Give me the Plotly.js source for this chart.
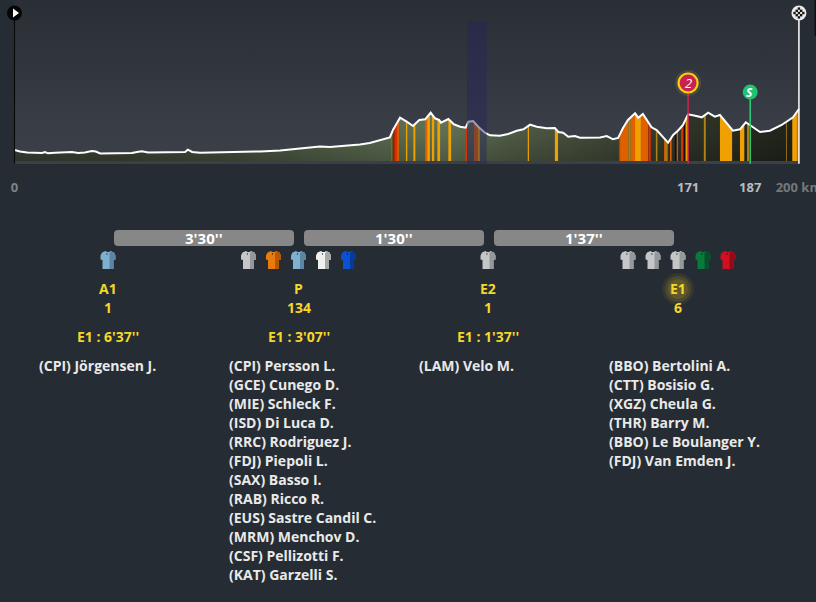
<!DOCTYPE html>
<html><head><meta charset="utf-8">
<script src="https://cdn.plot.ly/plotly-3.0.1.min.js"></script>
<style>html,body{margin:0;padding:0;background:#262c33;overflow:hidden}#c{width:816px;height:602px}</style>
</head><body><div id="c"></div>
<script>
const profileKm=[0,1.4,3.2,5.2,7,7.8,8.5,10.3,12.8,14.6,16.2,17.9,19.7,20.7,21.8,24.3,26.8,29.9,31.2,32.4,34,37,40.8,43.4,44.1,45.2,47.2,53.6,62.5,67.6,70.1,76.2,77.7,80.3,84.3,87.9,90.4,93,95.5,96.3,97.1,98.1,99.8,101.4,103,104.5,105.9,107,108.1,108.5,110.4,111.8,113.4,114.8,115.5,116.7,118,119.7,121,123.5,125.6,127.8,129.5,131.2,132.9,135.4,137.5,138.4,139.6,140.9,142.6,143.9,149,150.7,152.3,153.6,154.8,156.1,157.9,158.7,159.9,162.1,163.4,165,166.3,167.6,168.8,170.1,171.4,173.2,174.9,176.5,178.2,179.5,181.2,182.8,184.6,186.1,187.1,189.7,192.2,195.2,198.1,199.6];
const profileElev=[220,190,170,166,160,180,154,164,170,180,160,170,200,190,150,150,160,160,180,194,170,170,180,180,226,180,166,170,190,210,230,270,290,280,300,330,360,410,470,620,740,866,786,700,820,834,966,854,820,766,840,734,686,666,786,800,686,566,514,506,540,606,634,726,686,654,660,580,566,486,500,466,470,500,434,460,654,820,954,866,940,674,620,486,366,520,606,720,934,906,874,966,886,920,766,606,634,774,720,580,606,720,874,1040];
const O='#f0a000',D='#e06000',R='#d83000',K='#111111',C='#b08018',M='#a82000';
const stripeStart=[96,96.2,96.4,96.8,97.4,99.6,101.5,104.5,105,106.2,107.6,110.4,114.7,116.9,117.8,130.6,137.5,153.8,154.1,156.2,156.8,157.9,158.7,159.4,160.2,161.3,163.2,165.3,165.8,166.8,168,168.5,169.6,170.2,170.7,175.4,179.5,184.6,186.4,196.3,197.9,199.1];
const stripeEnd=[96.2,96.4,96.8,97.4,97.8,99.95,102,105,105.7,106.8,108.3,111.1,115.2,117.8,118.4,130.9,138.3,154.1,156.2,156.8,157.9,158.7,159.4,160.2,161.2,161.9,163.6,165.8,166.2,167.2,168.5,168.8,170.2,170.7,171.4,175.9,182.6,185.7,186.9,196.5,199.1,199.6];
const stripeColor=[O,K,M,R,D,O,O,D,O,O,O,O,R,D,O,O,O,R,D,C,D,O,O,D,D,R,C,D,C,D,K,D,R,K,O,C,O,O,C,C,O,D];
const stripKm=[0,10,20,30,40,50,60,70,80,90,100,110,120,130,140,150,160,170,180,190];
const startKm=0,endKm=199.6,climbKm=171.4,sprintKm=187.2;
const tickKm=[0,171.4,187.2,199.6];
const tickText=['<span style="color:#7f8387">0</span>','<span style="color:#b9bbbd">171</span>','<span style="color:#b9bbbd">187</span>','<span style="color:#74787c">200 km</span>'];
const gapLabels=["3'30''","1'30''","1'37''"];
const groupLabels=['A1','P','E2','E1'];
const groupCounts=['1','134','1','6'];
const groupTimes=["E1 : 6'37''","E1 : 3'07''","E1 : 1'37''",''];
const groupRiders=[
 ['(CPI) Jörgensen J.'],
 ['(CPI) Persson L.','(GCE) Cunego D.','(MIE) Schleck F.','(ISD) Di Luca D.','(RRC) Rodriguez J.','(FDJ) Piepoli L.','(SAX) Basso I.','(RAB) Ricco R.','(EUS) Sastre Candil C.','(MRM) Menchov D.','(CSF) Pellizotti F.','(KAT) Garzelli S.'],
 ['(LAM) Velo M.'],
 ['(BBO) Bertolini A.','(CTT) Bosisio G.','(XGZ) Cheula G.','(THR) Barry M.','(BBO) Le Boulanger Y.','(FDJ) Van Emden J.']];
const B=['#7fb0cf','#5a86a3'],G=['#c4c6c8','#95989a'],A=['#e87a10','#b55800'],W=['#f0f0f0','#a8a8a8'],U=['#0b52d2','#07389a'],N=['#0a7a3c','#05522a'],E=['#d01020','#960a16'];
const groupJerseys=[[B],[G,A,B,W,U],[G],[G,G,G,N,E]];

const W_=816,H_=602,F='"Open Sans",sans-serif';
const px=x=>x/W_, py=y=>1-y/H_;
const elevAt=k=>{for(let i=1;i<profileKm.length;i++){if(k<=profileKm[i]){const t=(k-profileKm[i-1])/(profileKm[i]-profileKm[i-1]);return profileElev[i-1]+t*(profileElev[i]-profileElev[i-1]);}}return profileElev[profileElev.length-1];};
const pyElev=y=>(161-y)*20;
const kmX=x=>(x-14.5)/3.93;

const traces=[];
const skip={hoverinfo:'skip',showlegend:false};
traces.push({x:[0,endKm,endKm,0,0],y:[pyElev(164),pyElev(164),pyElev(0),pyElev(0),pyElev(164)],mode:'none',fill:'toself',...skip,
 fillgradient:{type:'vertical',colorscale:[[0,'#3b4048'],[0.25,'#393e46'],[0.6,'#31363e'],[1,'#2a2f36']]}});
const polyX=[0,...profileKm,endKm,0],polyY=[0,...profileElev,0,0];
traces.push({x:polyX,y:polyY,mode:'none',fill:'toself',...skip,
 fillgradient:{type:'horizontal',colorscale:[[0,'#3f4639'],[0.14,'#414839'],[0.3,'#4b5643'],[0.42,'#5a6a50'],[0.55,'#67795c'],[0.63,'#56634b'],[0.75,'#454d3b'],[0.85,'#33382b'],[1,'#21251b']]}});
traces.push({x:polyX,y:polyY,mode:'none',fill:'toself',...skip,
 fillgradient:{type:'vertical',colorscale:[[0,'rgba(0,0,0,0.26)'],[0.5,'rgba(0,0,0,0.1)'],[1,'rgba(0,0,0,0)']]}});
[...new Set(stripeColor)].forEach(col=>{
 const xs=[],ys=[];
 stripeStart.forEach((s,i)=>{ if(stripeColor[i]!==col) return;
  const e=stripeEnd[i]; const inner=profileKm.filter(k=>k>s&&k<e);
  const pts=[s,...inner,e];
  xs.push(s,...pts,e,s,null); ys.push(0,...pts.map(elevAt),0,0,null);
 });
 traces.push({x:xs,y:ys,mode:'none',fill:'toself',fillcolor:col,...skip});
});
traces.push({type:'bar',x:stripKm.map((k,i)=>k+(i===19?4.8:5)),y:stripKm.map(()=>-54),width:stripKm.map((k,i)=>i===19?9.6:10),
 marker:{color:stripKm.map((k,i)=>i%2?'#c9c9c5':'#0b0b0b'),line:{width:0}},...skip});
traces.push({x:profileKm,y:profileElev,mode:'lines',line:{color:'#ffffff',width:2},...skip});
const markerLine=(k,top,col,w)=>traces.push({x:[k,k],y:[-54,pyElev(top)],mode:'lines',line:{color:col,width:w},...skip});
markerLine(startKm,13,'#0a0a0a',1.2);
markerLine(endKm,13,'#ffffff',1.5);
markerLine(climbKm,83,'#d3224c',1.5);
markerLine(sprintKm,92,'#2bd07a',1.5);
const dot=(k,y,size,color,extra={})=>traces.push({x:[k],y:[pyElev(y)],mode:'markers',marker:{size,color,line:{width:0},...extra},...skip});
dot(startKm,13,15,'#060606');
traces.push({x:[kmX(15)],y:[pyElev(13)],mode:'markers',marker:{symbol:'triangle-right',size:8,color:'#ffffff',line:{width:0}},...skip});
dot(endKm,13,15,'#ececec');
const cx=[],cy=[];
for(let r=-2;r<=2;r++)for(let c=-2;c<=2;c++){if((r+c+4)%2===0&&Math.abs(r)+Math.abs(c)<4){cx.push(endKm+c*2.2/3.93);cy.push(pyElev(13+r*2.2));}}
traces.push({x:cx,y:cy,mode:'markers',marker:{symbol:'square',size:2.4,color:'#151515',line:{width:0}},...skip});
dot(climbKm,83,26,'rgba(245,205,30,0.12)');
dot(climbKm,83,19,'#c8234c',{line:{width:2.2,color:'#f7cf14'}});
dot(sprintKm,92,15,'#1fc273');

const shapes=[];
shapes.push({type:'rect',xref:'x',yref:'y',x0:kmX(467),x1:kmX(486.7),y0:-54,y1:pyElev(21),fillcolor:'rgba(38,36,92,0.45)',line:{width:0},layer:'above'});
shapes.push({type:'rect',xref:'paper',yref:'paper',x0:px(814.6),x1:px(816),y0:py(36),y1:py(0),fillcolor:'#101010',line:{width:0}});

const annotations=[];
const txt=(text,x,y,size,color,anchor='center',weight=700,extra={})=>annotations.push({text,xref:'paper',yref:'paper',x:px(x),y:py(y),xanchor:anchor,yanchor:'middle',showarrow:false,
 font:{family:F,size,color,weight},borderpad:0,...extra});
txt('2',688,83,13,'#ffffff','center',400,{font:{family:F,size:13,color:'#ffffff',style:'italic',weight:400}});
txt('S',749.6,92,12,'#ffffff','center',700,{font:{family:F,size:12,color:'#ffffff',style:'italic',weight:700}});

const barX=[114,304,494];
const rr=(x0,y0,x1,y1,r)=>`M${px(x0+r)},${py(y0)} L${px(x1-r)},${py(y0)} Q${px(x1)},${py(y0)} ${px(x1)},${py(y0+r)} L${px(x1)},${py(y1-r)} Q${px(x1)},${py(y1)} ${px(x1-r)},${py(y1)} L${px(x0+r)},${py(y1)} Q${px(x0)},${py(y1)} ${px(x0)},${py(y1-r)} L${px(x0)},${py(y0+r)} Q${px(x0)},${py(y0)} ${px(x0+r)},${py(y0)} Z`;
gapLabels.forEach((t,i)=>{
 shapes.push({type:'path',xref:'paper',yref:'paper',path:rr(barX[i],230,barX[i]+180,246,4),fillcolor:'#878787',line:{width:0}});
 txt(t,barX[i]+90,238,15,'#ffffff');
});
const groupX=[108,298.5,488,678],listX=[38,228,418,608];
const poly=(pts)=>'M'+pts.map(p=>px(p[0])+','+py(p[1])).join(' L')+' Z';
const jersey=(cx,cols)=>{
 const t=251;
 const P=(a)=>a.map(p=>[cx+p[0],t+p[1]]);
 shapes.push({type:'path',xref:'paper',yref:'paper',line:{width:0},fillcolor:cols[0],path:poly(P([[-2.5,0],[-6,1.5],[-7.5,4.5],[-7.5,8.5],[-5.5,9],[-5.5,18],[5.5,18],[5.5,9],[7.5,8.5],[7.5,4.5],[6,1.5],[2.5,0],[1,1],[-1,1]]))});
 shapes.push({type:'path',xref:'paper',yref:'paper',line:{width:0},fillcolor:cols[1],path:poly(P([[1.5,2],[3,0.4],[6,1.5],[7.5,4.5],[7.5,8.5],[5.5,9],[5.5,18],[1.5,18]]))});
 shapes.push({type:'path',xref:'paper',yref:'paper',line:{width:0},fillcolor:'rgba(0,0,0,0.55)',path:poly(P([[-1.6,2],[-0.6,2],[-0.6,4],[-1.6,4]]))});
};
groupJerseys.forEach((js,g)=>{
 js.forEach((c,i)=>jersey(groupX[g]+(i-(js.length-1)/2)*25,c));
});
[[16,0.08],[13,0.12],[10,0.14]].forEach(g=>shapes.push({type:'circle',xref:'paper',yref:'paper',x0:px(678-g[0]),x1:px(678+g[0]),y0:py(289+g[0]),y1:py(289-g[0]),fillcolor:`rgba(235,195,30,${g[1]})`,line:{width:0},layer:'below'}));
groupLabels.forEach((t,g)=>{
 txt(t,groupX[g],288.4,14,'#f5d72c');
 txt(groupCounts[g],groupX[g],307.4,14,'#f5d72c');
 if(groupTimes[g]) txt(groupTimes[g],groupX[g],336.4,14,'#f5d72c');
 groupRiders[g].forEach((r,i)=>txt(r,listX[g],365.4+19*i,14,'#e9e9e9','left',700));
});

Plotly.newPlot('c',traces,{
 width:W_,height:H_,margin:{l:0,r:0,t:0,b:0,pad:0},paper_bgcolor:'#262c33',plot_bgcolor:'rgba(0,0,0,0)',
 showlegend:false,barmode:'overlay',bargap:0,hovermode:false,font:{family:F},
 xaxis:{range:[-14.5/3.93,(W_-14.5)/3.93],showgrid:false,zeroline:false,showline:false,ticks:'',tickmode:'array',tickvals:tickKm,ticktext:tickText,ticklabeloverflow:'allow',tickfont:{family:F,size:13,weight:700,color:'#b9bbbd'},fixedrange:true,automargin:false},
 yaxis:{domain:[1-178/H_,1],range:[pyElev(178),pyElev(0)],showgrid:false,zeroline:false,showline:false,showticklabels:false,ticks:'',fixedrange:true,automargin:false},
 shapes,annotations
},{displayModeBar:false,staticPlot:true});
</script></body></html>
